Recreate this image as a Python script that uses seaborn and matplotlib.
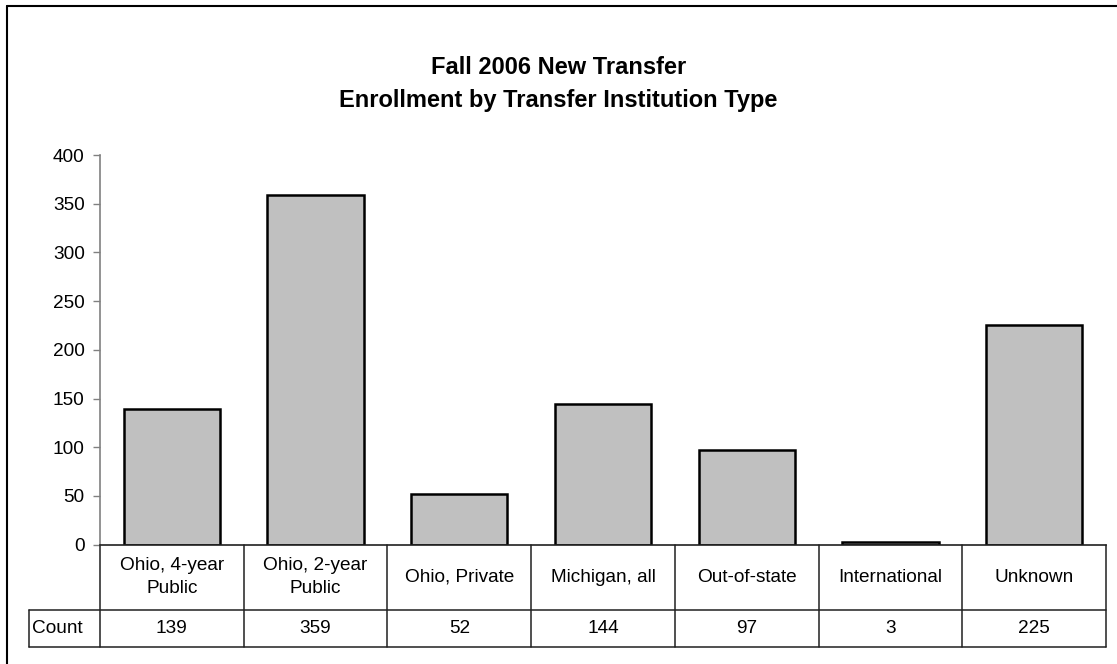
import matplotlib
matplotlib.use("Agg")
import matplotlib.pyplot as plt
import seaborn as sns
import pandas as pd

# Chart data
categories = ['Ohio, 4-year\nPublic', 'Ohio, 2-year\nPublic', 'Ohio, Private',
              'Michigan, all', 'Out-of-state', 'International', 'Unknown']
counts = [139, 359, 52, 144, 97, 3, 225]
row_label = 'Count'
title_lines = ['Fall 2006 New Transfer', 'Enrollment by Transfer Institution Type']
y_ticks = [0, 50, 100, 150, 200, 250, 300, 350, 400]

df = pd.DataFrame({'Type': categories, 'Count': counts})

sns.set_style('white')
plt.rcParams['font.family'] = ['Liberation Sans', 'DejaVu Sans']
plt.rcParams['text.color'] = 'black'
plt.rcParams['ytick.color'] = 'black'

W, H = 1117, 664
fig = plt.figure(figsize=(W / 100, H / 100), dpi=100)
ax = fig.add_axes([100 / W, 1 - 544.7 / H, 1006 / W, 389.7 / H])

sns.barplot(data=df, x='Type', y='Count', color='#C0C0C0', saturation=1,
            width=0.67, edgecolor='black', linewidth=1.8, ax=ax)

fs = 13.7
ax.set_xlim(-0.5, len(categories) - 0.5)
ax.set_ylim(0, 400)
ax.set_yticks(y_ticks)
ax.tick_params(axis='y', left=True, direction='out', length=5, width=1,
               color='#808080', labelcolor='black', labelsize=fs, pad=6)
ax.set_xticks([])
ax.set_xlabel('')
ax.set_ylabel('')
for s in ['top', 'right']:
    ax.spines[s].set_visible(False)
ax.spines['left'].set_color('#808080')
ax.spines['left'].set_linewidth(1.2)
ax.spines['bottom'].set_color('#202020')
ax.spines['bottom'].set_linewidth(1.2)

# Data table below the plot
trans = ax.get_xaxis_transform()
h1 = -(609.5 - 544.7) / 389.7
h2 = -(647 - 544.7) / 389.7
x_lab = -0.5 - 71 * len(categories) / 1006
lc = '#202020'
lw = 1.1
n = len(categories)
for i in range(n + 1):
    ax.plot([i - 0.5, i - 0.5], [0, h2], transform=trans, color=lc, lw=lw, clip_on=False)
ax.plot([x_lab, x_lab], [h1, h2], transform=trans, color=lc, lw=lw, clip_on=False)
ax.plot([x_lab, n - 0.5], [h1, h1], transform=trans, color=lc, lw=lw, clip_on=False)
ax.plot([x_lab, n - 0.5], [h2, h2], transform=trans, color=lc, lw=lw, clip_on=False)
for i, (c, v) in enumerate(zip(categories, counts)):
    ax.text(i, h1 / 2, c, transform=trans, ha='center', va='center',
            fontsize=fs, linespacing=1.4)
    ax.text(i, (h1 + h2) / 2, str(v), transform=trans, ha='center', va='center',
            fontsize=fs)
ax.text(x_lab + 0.018, (h1 + h2) / 2, row_label, transform=trans, ha='left',
        va='center', fontsize=fs)

# Title
fig.text(0.5, 1 - 67 / H, title_lines[0], ha='center', va='center',
         fontsize=17, fontweight='bold')
fig.text(0.5, 1 - 101 / H, title_lines[1], ha='center', va='center',
         fontsize=17, fontweight='bold')

# Chart area border
fig.add_artist(plt.Line2D([7 / W, 7 / W], [0, 1 - 6 / H], transform=fig.transFigure,
                          color='black', lw=1.5))
fig.add_artist(plt.Line2D([7 / W, 1], [1 - 6 / H, 1 - 6 / H], transform=fig.transFigure,
                          color='black', lw=1.5))

plt.savefig('out.png', dpi=100)
